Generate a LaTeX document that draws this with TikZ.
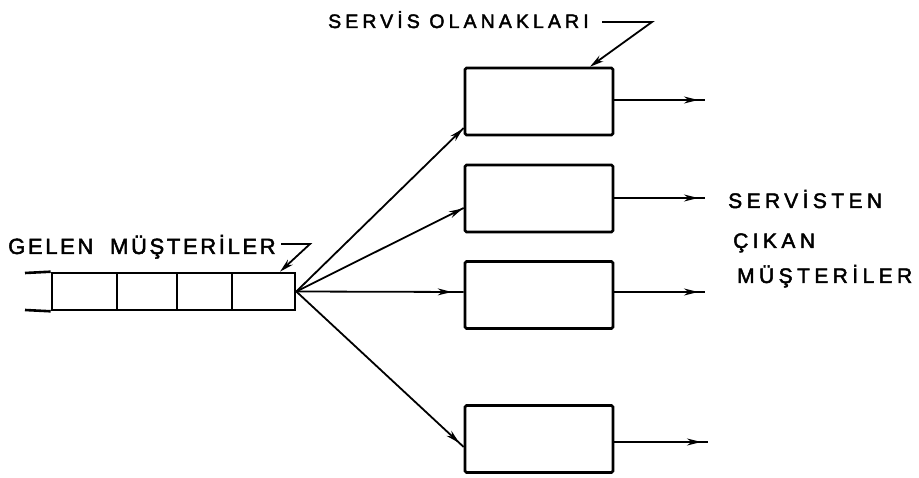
\documentclass[tikz,border=0pt]{standalone}
\usepackage{fontspec}
\setmainfont{Liberation Sans}
\newfontfamily\widelbl[LetterSpace=21,FakeBold=2.2]{Liberation Sans}
\newfontfamily\midlbl[LetterSpace=12,FakeBold=2.2]{Liberation Sans}
\usetikzlibrary{arrows.meta,decorations.markings}

\begin{document}
\begin{tikzpicture}[x=1pt,y=-1pt,
  tip/.tip={Stealth[length=14pt,width=7pt]},
  srv/.style={draw,line width=2.6pt,rounded corners=1.5pt,minimum width=148pt,
    minimum height=67pt,inner sep=0pt},
  cell/.style={draw,line width=2.6pt,minimum height=37pt,inner sep=0pt},
  flow/.style={line width=1.8pt,postaction={decorate},
    decoration={markings,mark=at position #1 with {\arrow{tip}}}},
  flow/.default=-8pt,
  lead/.style={line width=1.8pt,-tip},
  lbl/.style={inner sep=0pt,anchor=base west}]

\useasboundingbox[fill=white] (0,0) rectangle (919,478);

% waiting line of arriving customers
\node[cell,minimum width=65pt] (c1) at (84.5,291.5) {};
\node[cell,minimum width=60pt] (c2) at (147,291.5) {};
\node[cell,minimum width=55pt] (c3) at (204.5,291.5) {};
\node[cell,minimum width=63pt] (c4) at (263.5,291.5) {};
\coordinate (tailtop) at (25,273);
\coordinate (tailbot) at (25,310);
\draw[line width=2.6pt] (tailtop) -- (c1.north west);
\draw[line width=2.6pt] (tailbot) -- (c1.south west);

% service facilities
\node[srv] (b1) at (539,101.5) {};
\node[srv] (b2) at (539,198.5) {};
\node[srv] (b3) at (539,295) {};
\node[srv] (b4) at (539,439) {};

% routing to the facilities
\draw[flow=-1pt] (c4.east) -- (b1.west |- 0,128);
\draw[flow=-1pt] (c4.east) -- (b2.west |- 0,208);
\draw[flow=-12pt] (c4.east) -- (b3.west |- 0,292);
\draw[flow=-6pt] (c4.east) -- (b4.west |- 0,447);

% departing customers
\coordinate (o1) at (705,100);
\coordinate (o2) at (705,198);
\coordinate (o3) at (705,292);
\coordinate (o4) at (708,442);
\draw[flow=-7pt] (b1.east |- o1) -- (o1);
\draw[flow=-7pt] (b2.east |- o2) -- (o2);
\draw[flow=-7pt] (b3.east |- o3) -- (o3);
\draw[flow=-7pt] (b4.east |- o4) -- (o4);

% labels
\node[lbl,font=\midlbl\fontsize{22}{26}\selectfont] (gelen) at (8,254) {GELEN\hspace{8pt} MÜŞTERİLER};
\node[lbl,font=\widelbl\fontsize{19.5}{23}\selectfont] (servis) at (328,28) {SERVİS OLANAKLARI};
\node[lbl,font=\widelbl\fontsize{21}{25}\selectfont] (cik1) at (728,208) {SERVİSTEN};
\node[lbl,font=\widelbl\fontsize{21}{25}\selectfont] (cik2) at (733,248) {ÇIKAN};
\node[lbl,font=\widelbl\fontsize{21}{25}\selectfont] (cik3) at (737,283) {MÜŞTERİLER};

% leader lines
\coordinate (g0) at (281,244);
\coordinate (g1) at (310,244);
\draw[lead] (g0) -- (g1) -- (c4.north -| 280,0);
\coordinate (s0) at (602,22);
\coordinate (s1) at (652,22);
\draw[lead] (s0) -- (s1) -- (b1.north -| 590,0);
\end{tikzpicture}
\end{document}
